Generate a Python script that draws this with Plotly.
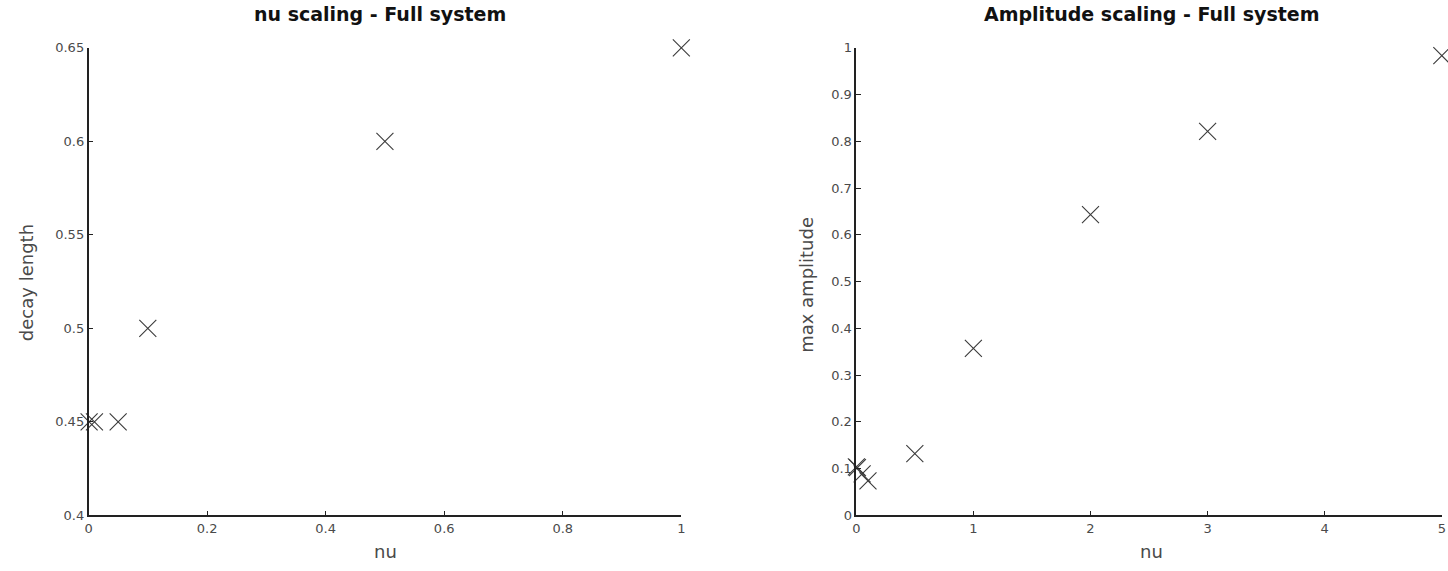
import plotly.graph_objects as go
from plotly.subplots import make_subplots

# Left panel: nu scaling
nu_left = [0.001, 0.01, 0.05, 0.1, 0.5, 1.0]
decay_length = [0.45, 0.45, 0.45, 0.5, 0.6, 0.65]

# Right panel: amplitude scaling
nu_right = [0.001, 0.01, 0.05, 0.1, 0.5, 1.0, 2.0, 3.0, 5.0]
max_amplitude = [0.104, 0.102, 0.089, 0.074, 0.132, 0.357, 0.643, 0.821, 0.983]

left_ticks = [0, 0.2, 0.4, 0.6, 0.8, 1]
left_yticks = [0.4, 0.45, 0.5, 0.55, 0.6, 0.65]
right_ticks = [0, 1, 2, 3, 4, 5]
right_yticks = [0, 0.1, 0.2, 0.3, 0.4, 0.5, 0.6, 0.7, 0.8, 0.9, 1]

W, H = 1448, 571


def px_x(t):
    # target pixel -> paper fraction (empirical render correction)
    return min(1.0, max(0.0, ((t - 2.45) / 0.9948) / W))


def px_y(t):
    return min(1.0, max(0.0, 1 - (282 + (t - 282) / 0.9787) / H))


fig = make_subplots(rows=1, cols=2)

mk = dict(symbol="x-thin-open", size=17, line=dict(width=1.1, color="#3a3a3a"), color="#3a3a3a")
fig.add_trace(go.Scatter(x=nu_left, y=decay_length, mode="markers", marker=mk, cliponaxis=False), 1, 1)
fig.add_trace(go.Scatter(x=nu_right, y=max_amplitude, mode="markers", marker=mk, cliponaxis=False), 1, 2)

ydom = [px_y(517), px_y(47)]
tickfont = dict(family="DejaVu Sans", size=13, color="#4a4a4a")
axcommon = dict(showgrid=False, zeroline=False, showline=True, linecolor="#222222", linewidth=1.5,
                ticks="inside", ticklen=5, tickcolor="#222222", tickfont=tickfont, mirror=False,
                ticklabeloverflow="allow")

fig.update_xaxes(domain=[px_x(87), px_x(680)], range=[0, 1], tickvals=left_ticks,
                 ticktext=["0", "0.2", "0.4", "0.6", "0.8", "1"], **axcommon, row=1, col=1)
fig.update_yaxes(domain=ydom, range=[0.4, 0.65], tickvals=left_yticks,
                 ticktext=["0.4", "0.45", "0.5", "0.55", "0.6", "0.65"], **axcommon, row=1, col=1)
fig.update_xaxes(domain=[px_x(855), 0.9985], range=[0, 5], tickvals=right_ticks,
                 ticktext=[str(t) for t in right_ticks], **axcommon, row=1, col=2)
fig.update_yaxes(domain=ydom, range=[0, 1], tickvals=right_yticks,
                 ticktext=["0", "0.1", "0.2", "0.3", "0.4", "0.5", "0.6", "0.7", "0.8", "0.9", "1"],
                 **axcommon, row=1, col=2)

labfont = dict(family="DejaVu Sans", size=18, color="#4a4a4a")
titfont = dict(family="DejaVu Sans", size=19, color="#111111")
ann = [
    dict(text="<b>nu scaling - Full system</b>", x=px_x(379), y=px_y(13), font=titfont),
    dict(text="<b>Amplitude scaling - Full system</b>", x=px_x(1150), y=px_y(13), font=titfont),
    dict(text="nu", x=px_x(384), y=px_y(553), font=labfont),
    dict(text="nu", x=px_x(1150), y=px_y(553), font=labfont),
    dict(text="decay length", x=px_x(25), y=px_y(283), font=labfont, textangle=-90),
    dict(text="max amplitude", x=px_x(805), y=px_y(285), font=labfont, textangle=-90),
]
for a in ann:
    fig.add_annotation(xref="paper", yref="paper", showarrow=False, xanchor="center", yanchor="middle", **a)

fig.update_layout(width=W, height=H, margin=dict(l=0, r=0, t=0, b=0), showlegend=False,
                  plot_bgcolor="white", paper_bgcolor="white")
fig.write_html("out.html")
